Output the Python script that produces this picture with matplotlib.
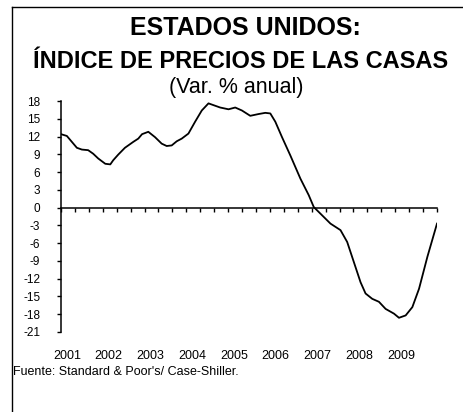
import numpy as np
import matplotlib
matplotlib.use("Agg")
import matplotlib.pyplot as plt
from matplotlib.lines import Line2D
from matplotlib.transforms import blended_transform_factory

plt.rcParams["font.family"] = ["Liberation Sans", "DejaVu Sans"]

# curve: (years since Jan 2001, annual % change)
t_years = [0.00, 0.14, 0.26, 0.38, 0.50, 0.65, 0.77, 0.89, 1.06, 1.18, 1.25, 1.37,
           1.53, 1.73, 1.85, 1.94, 2.09, 2.25, 2.41, 2.53, 2.65, 2.77, 2.89, 3.05,
           3.21, 3.37, 3.53, 3.65, 3.81, 4.01, 4.17, 4.33, 4.53, 4.73, 4.89, 5.01,
           5.13, 5.29, 5.49, 5.73, 5.93, 6.05, 6.25, 6.45, 6.69, 6.85, 7.01, 7.17,
           7.29, 7.45, 7.61, 7.77, 7.97, 8.09, 8.25, 8.41, 8.57, 8.77, 9.00]
var_anual = [12.4, 12.1, 11.1, 10.1, 9.8, 9.7, 9.1, 8.3, 7.4, 7.3, 8.0, 8.95,
             10.1, 11.1, 11.65, 12.4, 12.8, 11.9, 10.8, 10.4, 10.5, 11.2, 11.65, 12.5,
             14.5, 16.4, 17.6, 17.3, 16.9, 16.6, 16.9, 16.4, 15.5, 15.8, 16.0, 15.9,
             14.5, 11.9, 8.8, 4.9, 2.1, 0.1, -1.3, -2.7, -3.8, -5.8, -9.2, -12.6,
             -14.5, -15.4, -15.9, -17.1, -17.9, -18.6, -18.2, -16.8, -13.7, -8.3, -2.7]
years = ["2001", "2002", "2003", "2004", "2005", "2006", "2007", "2008", "2009"]
y_ticks = [18, 15, 12, 9, 6, 3, 0, -3, -6, -9, -12, -15, -18, -21]

W, H = 463, 412
fig = plt.figure(figsize=(W / 100, H / 100), dpi=100)
ax = fig.add_axes([61 / W, 1 - 332 / H, (437 - 61) / W, (332 - 101) / H])

x = 2001 + np.asarray(t_years)
ax.plot(x, var_anual, color="black", lw=1.3)

ax.set_xlim(2001, 2010)
ax.set_ylim(-21, 18)
ax.set_yticks(y_ticks)
ax.set_yticklabels([str(v) for v in y_ticks], fontsize=8.5)
ax.tick_params(axis="y", direction="out", length=3, width=1, pad=12)

# zero line carries the 4-month tick marks
ax.spines["bottom"].set_position(("data", 0))
ax.set_xticks(np.arange(2001, 2010.01, 1 / 3))
ax.set_xticklabels([])
ax.tick_params(axis="x", direction="out", length=3, width=1)
for s in ("top", "right"):
    ax.spines[s].set_visible(False)
for s in ("left", "bottom"):
    ax.spines[s].set_linewidth(1.1)

# year labels sit below the plot area
tr = blended_transform_factory(ax.transData, fig.transFigure)
for i, yr in enumerate(years):
    ax.text(2001.14 + i, 1 - 356 / H, yr, transform=tr, ha="center", va="center",
            fontsize=9)

fig.text(245 / W, 1 - 28 / H, "ESTADOS UNIDOS:", ha="center", va="center",
         fontsize=18, fontweight="bold")
fig.text(241 / W, 1 - 62 / H, "ÍNDICE DE PRECIOS DE LAS CASAS", ha="center",
         va="center", fontsize=17, fontweight="bold")
fig.text(236 / W, 1 - 88 / H, "(Var. % anual)", ha="center", va="center", fontsize=15.5)
fig.text(13 / W, 1 - 372 / H, "Fuente: Standard & Poor's/ Case-Shiller.", ha="left",
         va="center", fontsize=9)

# frame: left and top borders only
fig.add_artist(Line2D([11.5 / W, 11.5 / W], [0, 1 - 7 / H], color="black", lw=1,
                      transform=fig.transFigure))
fig.add_artist(Line2D([11.5 / W, 1], [1 - 7 / H, 1 - 7 / H], color="black", lw=1,
                      transform=fig.transFigure))

fig.savefig("out.png", dpi=100)
